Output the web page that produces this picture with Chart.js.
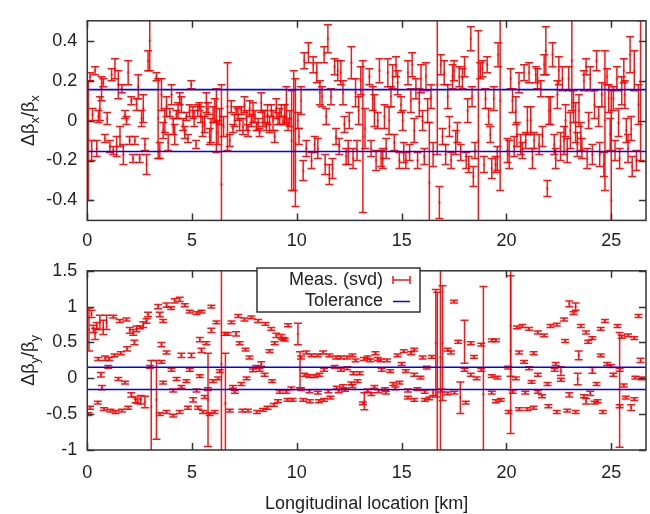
<!DOCTYPE html>
<html>
<head>
<meta charset="utf-8">
<script src="https://cdn.jsdelivr.net/npm/chart.js@4.4.1/dist/chart.umd.min.js"></script>
<style>
  html, body { margin:0; padding:0; background:#fff; }
  #wrap { position:relative; width:650px; height:514px; overflow:hidden; }
  canvas { position:absolute; left:0; }
  #c1 { top:0; }
  #c2 { top:250px; }
</style>
</head>
<body>
<div id="wrap">
  <canvas id="c1" width="650" height="250"></canvas>
  <canvas id="c2" width="650" height="264"></canvas>
</div>
<script>
// ---------------- DATA ----------------
const ringLength = 26.659; // km
const xTickValues = [0, 5, 10, 15, 20, 25];
const yTicksX = [-0.4, -0.2, 0, 0.2, 0.4];
const yTicksY = [-1, -0.5, 0, 0.5, 1, 1.5];
const toleranceX = 0.155;
const toleranceY = 0.155;

// Horizontal plane: location [km], delta beta/beta, error
const sX = [0.05,0.13,0.21,0.25,0.37,0.45,0.53,0.6,0.68,0.76,0.84,0.95,1.08,1.16,1.24,1.32,1.4,1.48,1.56,1.65,1.72,1.8,1.87,1.95,2.02,2.1,2.18,2.27,2.35,2.43,2.5,2.59,2.67,2.75,2.83,2.9,2.98,3.3,3.38,3.46,3.54,3.62,3.7,3.78,3.86,3.94,4.02,4.1,4.17,4.25,4.33,4.41,4.49,4.57,4.65,4.73,4.8,4.88,4.96,5.04,5.1,5.19,5.27,5.35,5.42,5.5,5.6,5.68,5.76,5.84,5.9,6.0,6.08,6.16,6.24,6.32,6.4,6.5,6.69,6.8,6.87,6.95,7.03,7.11,7.19,7.27,7.35,7.43,7.5,7.6,7.67,7.75,7.83,7.91,8.0,8.07,8.15,8.22,8.3,8.38,8.46,8.54,8.6,8.7,8.78,8.86,8.94,9.02,9.1,9.18,9.26,9.34,9.42,9.5,9.58,9.66,9.75,9.85,9.93,10.05,10.1,10.2,10.3,10.35,10.45,10.55,10.7,10.78,10.85,10.95,11.0,11.1,11.2,11.3,11.35,11.4,11.48,11.55,11.63,11.7,11.8,11.87,11.95,12.02,12.1,12.2,12.27,12.35,12.45,12.5,12.6,12.68,12.8,12.87,12.95,13.05,13.15,13.25,13.46,13.54,13.62,13.7,13.78,13.86,13.94,14.02,14.1,14.18,14.26,14.34,14.4,14.49,14.57,14.65,14.73,14.81,14.89,14.97,15.05,15.1,15.2,15.3,15.38,15.44,15.5,15.6,15.68,15.76,15.84,15.92,16.0,16.08,16.16,16.24,16.32,16.4,16.5,16.7,16.8,16.87,16.95,17.03,17.1,17.2,17.28,17.36,17.43,17.5,17.58,17.66,17.75,17.82,17.9,18.0,18.08,18.15,18.2,18.3,18.36,18.42,18.5,18.66,18.75,18.85,18.93,19.0,19.08,19.15,19.23,19.3,19.4,19.48,19.56,19.6,19.7,20.05,20.13,20.2,20.29,20.37,20.45,20.5,20.6,20.68,20.76,20.84,20.92,21.0,21.08,21.16,21.24,21.32,21.4,21.48,21.56,21.64,21.72,21.8,21.88,21.95,22.03,22.1,22.2,22.28,22.35,22.43,22.5,22.58,22.67,22.75,22.82,22.9,22.97,23.05,23.12,23.2,23.3,23.38,23.46,23.55,23.6,23.7,23.8,23.85,23.92,24.0,24.1,24.2,24.3,24.4,24.45,24.55,24.65,24.7,24.8,24.88,24.95,25.0,25.1,25.18,25.27,25.35,25.4,25.5,25.6,25.65,25.72,25.8,25.9,25.95,26.0,26.1,26.2,26.3,26.4];
const dbX = [-0.1,0.22,-0.15,0.03,0.25,-0.14,0.02,0.06,0.16,0.19,-0.09,0.01,-0.13,0.23,-0.15,0.26,-0.13,0.18,-0.08,0.16,-0.17,0.03,0.0,0.24,-0.1,0.1,-0.19,-0.1,0.08,0.17,-0.19,0.01,0.06,-0.12,-0.22,0.3,0.4,0.22,0.01,-0.15,0.13,-0.05,0.0,0.07,-0.11,0.04,0.13,-0.03,-0.07,0.03,0.05,0.11,0.08,-0.02,-0.06,0.02,-0.09,0.05,0.18,0.04,0.01,-0.12,0.05,0.07,0.03,-0.03,-0.02,0.09,0.06,-0.08,-0.05,0.03,0.05,0.0,-0.06,0.02,-0.32,-0.03,0.07,-0.1,0.07,-0.04,0.0,0.05,0.03,-0.02,0.05,-0.03,0.08,0.0,-0.05,0.06,0.0,0.04,0.02,-0.03,-0.02,-0.06,0.09,0.01,0.02,-0.03,0.03,-0.02,0.05,0.0,-0.08,0.06,0.01,0.02,0.05,0.0,0.03,0.08,-0.02,0.01,-0.1,-0.05,-0.11,0.0,-0.08,0.1,-0.25,0.3,-0.14,0.34,-0.2,0.28,-0.12,0.24,-0.14,0.14,0.12,0.33,-0.22,0.02,0.41,-0.27,0.12,-0.24,0.27,-0.08,0.25,-0.13,0.24,0.14,-0.02,-0.18,-0.16,0.0,0.29,-0.19,0.14,-0.15,0.05,0.2,-0.08,-0.04,0.22,-0.14,0.11,0.05,-0.2,0.0,0.25,-0.19,-0.19,0.02,-0.14,0.24,0.0,0.12,0.22,-0.11,0.27,0.19,-0.2,0.08,0.0,-0.16,-0.2,0.24,-0.16,0.1,0.28,-0.05,0.16,-0.2,0.09,0.21,0.0,-0.18,0.22,0.05,-0.31,0.12,-0.17,0.18,-0.41,0.28,-0.08,0.24,-0.17,0.12,-0.03,-0.2,0.22,0.25,-0.11,-0.06,0.22,-0.16,0.21,0.27,-0.2,0.05,-0.22,0.41,0.12,-0.28,-0.15,-0.1,0.25,0.26,-0.22,0.11,0.28,0.02,-0.07,-0.24,0.11,-0.22,-0.19,0.33,0.1,-0.15,-0.17,0.21,0.1,-0.13,0.05,-0.07,0.19,-0.12,-0.15,0.24,-0.1,0.0,0.24,0.0,-0.19,-0.1,0.23,0.21,-0.12,0.16,-0.08,0.28,0.35,-0.34,0.05,0.05,0.33,-0.12,-0.19,0.13,0.25,-0.13,0.21,-0.1,0.0,-0.15,0.21,-0.05,0.3,0.07,-0.01,-0.12,0.05,-0.08,-0.14,0.2,0.27,-0.19,0.0,0.21,-0.17,0.08,0.3,0.02,-0.17,0.13,-0.22,0.0,0.22,0.11,-0.07,-0.4,0.11,-0.15,0.21,-0.01,-0.19,0.15,0.25,0.13,-0.05,-0.14,0.33,-0.04,-0.23,0.25,-0.2,0.08,0.15];
const errX = [0.3,0.02,0.05,0.03,0.02,0.04,0.03,0.06,0.06,0.02,0.02,0.03,0.03,0.03,0.02,0.05,0.05,0.07,0.05,0.02,0.05,0.02,0.02,0.06,0.02,0.02,0.02,0.02,0.03,0.06,0.02,0.04,0.07,0.03,0.05,0.05,0.15,0.02,0.2,0.04,0.08,0.04,0.06,0.05,0.04,0.02,0.05,0.04,0.05,0.02,0.04,0.03,0.04,0.03,0.03,0.02,0.02,0.03,0.02,0.03,0.04,0.02,0.03,0.02,0.04,0.05,0.04,0.05,0.03,0.04,0.06,0.04,0.06,0.16,0.06,0.04,0.5,0.05,0.22,0.03,0.03,0.02,0.03,0.02,0.03,0.03,0.02,0.04,0.04,0.05,0.03,0.04,0.03,0.05,0.03,0.02,0.03,0.02,0.05,0.04,0.03,0.02,0.05,0.04,0.03,0.05,0.03,0.05,0.03,0.04,0.03,0.02,0.05,0.09,0.03,0.04,0.25,0.3,0.32,
  0.04,0.04,0.07,0.05,0.04,0.04,0.05,0.04,0.04,0.04,
  0.05,0.05,0.06,0.05,0.04,0.05,0.04,0.07,0.05,0.04,
  0.05,0.04,0.04,0.05,0.04,0.06,0.06,0.04,0.04,0.06,
  0.04,0.08,0.05,0.07,0.05,0.07,0.07,0.38,0.1,0.04,
  0.04,0.06,0.08,0.05,0.04,0.06,0.04,0.05,0.06,0.05,
  0.07,0.07,0.05,0.06,0.04,0.05,0.06,0.04,0.04,0.05,
  0.05,0.04,0.06,0.04,0.06,0.06,0.06,0.05,0.04,0.07,
  0.07,0.05,0.04,0.07,0.06,0.3,0.06,0.06,0.35,0.08,
  0.05,0.04,0.06,0.05,0.06,0.05,0.04,0.06,0.05,0.06,
  0.05,0.05,0.04,0.05,0.05,0.04,0.06,0.04,0.06,0.05,
  0.05,0.04,0.55,0.04,0.04,0.04,0.05,0.04,0.04,0.04,
  0.05,0.06,0.04,0.06,0.06,0.45,0.06,0.07,0.05,0.06,
  0.05,0.07,0.06,0.05,0.05,0.04,0.04,0.04,0.07,0.05,
  0.07,0.05,0.04,0.04,0.05,0.05,0.04,0.05,0.05,0.12,
  0.04,0.07,0.07,0.06,0.05,0.05,0.07,0.07,0.07,0.06,
  0.07,0.08,0.06,0.06,0.09,0.25,0.08,0.1,0.06,0.08,
  0.07,0.05,0.05,0.04,0.05,0.04,0.06,0.05,0.07,0.05,
  0.05,0.06,0.06,0.06,0.35,0.04,0.07,0.08,0.55,0.06,
  0.05,0.06,0.07,0.05,0.07,0.06,0.07,0.06,0.07,0.09,
  0.06,0.05,0.1,0.05,0.1,0.35];

// Vertical plane: location [km], delta beta/beta, error
const sY = [0.05,0.08,0.13,0.2,0.29,0.37,0.45,0.5,0.52,0.6,0.65,0.7,0.76,0.8,0.85,0.92,1.0,1.05,1.1,1.24,1.3,1.35,1.48,1.55,1.6,1.65,1.8,1.87,1.9,1.95,2.03,2.1,2.19,2.25,2.3,2.35,2.4,2.51,2.55,2.67,2.75,2.83,2.9,2.99,3.05,3.3,3.38,3.46,3.46,3.54,3.54,3.62,3.62,3.78,3.78,3.78,4.0,4.02,4.1,4.1,4.17,4.26,4.41,4.41,4.49,4.49,4.65,4.73,4.8,4.89,4.89,4.97,5.05,5.21,5.21,5.29,5.37,5.37,5.45,5.45,5.52,5.6,5.68,5.76,5.76,5.84,5.92,5.92,6.0,6.08,6.16,6.24,6.32,6.4,6.56,6.59,6.7,6.8,6.88,6.95,7.04,7.1,7.2,7.27,7.35,7.4,7.5,7.55,7.6,7.67,7.74,7.83,7.9,8.06,8.1,8.15,8.22,8.3,8.38,8.46,8.5,8.6,8.7,8.78,8.82,8.9,8.94,9.02,9.1,9.18,9.26,9.35,9.42,9.5,9.55,9.58,9.74,9.8,10.05,10.15,10.2,10.2,10.3,10.36,10.45,10.6,10.6,10.62,10.7,10.84,11.0,11.0,11.05,11.08,11.25,11.3,11.3,11.5,11.55,11.6,11.8,11.87,11.9,12.0,12.1,12.1,12.2,12.3,12.4,12.4,12.6,12.65,12.65,12.7,12.8,12.9,13.0,13.15,13.2,13.22,13.38,13.38,13.5,13.55,13.7,13.75,13.86,13.9,14.0,14.05,14.2,14.25,14.3,14.45,14.6,14.7,14.8,14.9,15.0,15.1,15.2,15.3,15.3,15.45,15.6,15.6,15.6,15.75,15.9,16.0,16.1,16.1,16.2,16.32,16.44,16.5,16.63,16.7,16.85,16.9,16.95,17.2,17.2,17.35,17.5,17.52,17.7,17.8,18.0,18.0,18.06,18.3,18.3,18.45,18.58,18.8,18.8,18.9,19.3,19.3,19.3,19.5,19.5,19.57,19.73,20.08,20.1,20.2,20.2,20.3,20.45,20.5,20.6,20.6,20.76,20.84,20.9,21.0,21.08,21.08,21.2,21.3,21.3,21.5,21.5,21.5,21.7,21.8,21.96,22.0,22.1,22.3,22.35,22.4,22.4,22.6,22.6,22.75,22.8,22.9,23.0,23.0,23.2,23.3,23.3,23.4,23.45,23.55,23.7,23.8,23.8,23.9,24.0,24.1,24.1,24.2,24.3,24.35,24.5,24.5,24.6,24.7,24.8,25.0,25.1,25.3,25.4,25.4,25.4,25.5,25.6,25.7,25.8,25.95,26.1,26.1,26.15,26.3,26.4,26.45];
const dbY = [-0.5,0.68,-0.41,0.9,0.69,0.62,0.73,-0.34,0.27,0.78,0.05,-0.13,0.71,-0.43,0.28,0.78,0.16,0.27,-0.45,0.86,0.32,-0.47,-0.01,0.8,0.35,-0.45,-0.06,0.82,0.41,-0.41,0.67,-0.23,0.64,0.5,-0.3,0.69,-0.32,0.71,-0.3,0.75,-0.33,0.8,0.89,0.16,-0.4,-0.3,1.0,0.89,-0.5,0.47,0.23,0.8,-0.06,1.02,0.36,-0.47,0.98,0.12,-0.52,-0.17,1.08,-0.01,1.1,-0.47,0.32,-0.12,1.02,-0.04,-0.41,0.93,0.12,0.32,-0.3,0.91,-0.17,-0.41,0.54,0.03,0.93,0.39,-0.47,-0.26,0.49,-0.15,-0.3,-0.5,1.0,0.67,-0.04,-0.47,0.78,0.0,0.1,0.2,0.62,-0.35,0.62,-0.45,0.78,-0.12,-0.19,0.62,0.87,0.49,-0.08,-0.45,0.82,0.4,0.0,-0.45,0.29,0.85,0.11,0.16,-0.47,0.8,0.12,0.2,-0.44,0.05,0.76,-0.41,0.38,0.69,-0.04,-0.37,0.49,0.6,-0.32,-0.19,0.58,0.55,0.54,-0.19,-0.3,0.74,-0.14,-0.3,0.62,0.12,0.29,-0.15,-0.3,0.05,0.36,0.03,-0.18,-0.32,0.32,0.03,0.32,-0.2,-0.32,0.05,0.36,0.12,-0.3,-0.18,0.32,-0.27,0.16,0.29,-0.13,-0.18,0.29,0.12,-0.11,-0.16,0.29,0.14,-0.07,0.32,-0.11,0.07,0.25,-0.04,0.07,-0.35,0.27,-0.32,0.29,-0.17,0.25,-0.22,-0.12,0.35,0.27,-0.18,0.25,0.12,-0.15,-0.2,0.25,0.1,-0.08,-0.14,0.32,-0.06,0.2,0.38,0.1,-0.17,-0.27,0.35,0.4,0.05,-0.3,-0.15,0.01,0.29,-0.19,-0.3,0.15,-0.28,0.3,-0.2,0.49,-0.2,0.29,-0.17,0.49,0.4,-0.21,0.36,1.07,-0.2,0.51,-0.27,0.51,0.12,-0.34,0.49,0.05,0.3,0.0,0.47,0.12,-0.22,0.53,0.03,-0.2,0.53,-0.32,0.01,-0.3,0.15,-0.47,0.73,0.38,-0.19,0.0,0.71,0.36,-0.43,0.73,0.23,-0.2,-0.43,0.69,0.14,-0.05,-0.41,0.35,0.64,0.05,-0.19,-0.25,0.6,-0.08,-0.39,0.73,0.12,0.2,0.75,-0.47,0.1,-0.02,0.82,0.52,-0.45,1.04,-0.23,0.91,1.0,-0.47,-0.01,0.32,0.73,-0.25,0.64,-0.32,0.51,-0.21,0.56,0.11,-0.34,-0.08,-0.32,0.69,0.32,-0.47,0.8,0.2,0.17,0.05,0.73,0.12,-0.16,-0.39,0.58,-0.1,-0.27,0.6,-0.41,0.56,-0.29,0.01,0.87,0.25,0.0];
const errY = [0.02,0.3,0.02,0.05,0.05,0.08,0.05,0.02,0.02,0.1,0.03,0.03,0.1,0.02,0.03,0.1,0.02,0.02,0.02,0.02,0.02,0.02,0.02,0.02,0.02,0.02,0.02,0.02,0.03,0.02,0.04,0.03,0.04,0.03,0.04,0.04,0.03,0.02,0.06,0.04,0.08,0.03,0.03,0.02,0.65,0.55,0.03,0.03,0.02,0.03,0.02,0.02,0.02,0.03,0.02,0.02,0.02,0.02,0.02,0.02,0.03,0.02,0.03,0.02,0.03,0.02,0.02,0.02,0.02,0.02,0.02,0.03,0.03,0.02,0.02,0.02,0.03,0.02,0.02,0.03,0.02,0.02,0.02,0.02,0.65,0.02,0.02,0.03,0.02,0.02,0.02,0.02,0.02,1.5,0.02,0.7,0.02,0.02,0.02,0.02,0.02,0.03,0.02,0.02,0.02,0.02,0.02,0.02,0.02,0.02,0.02,0.02,0.02,0.02,0.02,0.02,0.02,0.03,0.02,0.02,0.02,0.02,0.02,0.02,0.02,0.02,0.02,0.03,0.02,0.02,0.03,0.02,0.02,0.02,0.02,0.02,0.02,0.02,0.15,0.25,0.02,0.02,0.02,0.02,0.02,0.02,0.02,0.02,0.02,0.02,0.02,0.02,0.02,0.02,0.02,0.02,0.02,0.02,0.02,0.02,0.02,0.02,0.02,0.02,0.02,0.02,0.02,0.02,0.02,0.02,0.02,0.02,0.02,0.02,0.02,0.02,0.02,0.02,0.02,0.12,0.02,0.02,0.02,0.02,0.02,0.02,0.02,0.02,0.02,0.02,0.02,0.02,0.02,0.02,0.02,0.02,0.02,0.02,0.02,0.02,0.02,0.02,0.02,0.02,0.02,0.02,0.02,0.02,0.02,0.02,0.02,0.02,0.02,0.02,0.02,0.04,0.75,1.4,1.3,0.02,0.8,0.02,0.02,0.02,0.02,0.02,0.02,0.22,0.3,0.02,0.02,0.02,0.02,0.02,0.02,0.02,0.02,1.5,0.02,0.02,0.02,0.02,0.02,0.02,0.02,0.02,0.02,0.7,1.15,0.02,0.02,0.02,0.02,0.02,0.02,0.02,0.02,0.02,0.02,0.02,0.02,0.02,0.02,0.02,0.02,0.02,0.02,0.02,0.02,0.02,0.02,0.02,0.02,0.02,0.02,0.06,0.02,0.02,0.02,0.02,0.04,0.03,0.02,0.05,0.02,0.08,0.06,0.02,0.02,0.02,0.04,0.02,0.03,0.02,0.04,0.02,0.02,0.02,0.02,0.02,0.02,0.02,0.02,0.02,0.02,0.02,0.02,0.8,0.02,0.02,0.02,0.02,0.02,0.04,0.02,0.02,0.02,0.02,0.03,0.02,0.02,0.1,0.05,1.0];

// ---------------- STYLE / PLUGINS ----------------
const FONT = { family: "'Liberation Sans', Arial, sans-serif", size: 18 };
const TXT = '#222';
const RED = 'rgba(255,0,0,0.92)';
const BLUE = '#0000ff';

const errorBars = {
  id: 'errorBars',
  afterDatasetDraw(chart, args) {
    const ds = chart.data.datasets[args.index];
    if (!ds.errors) return;
    const { ctx, chartArea: a, scales } = chart;
    const xs = scales.x, ys = scales.y;
    ctx.save();
    ctx.beginPath();
    ctx.rect(a.left, a.top, a.right - a.left, a.bottom - a.top);
    ctx.clip();
    ctx.strokeStyle = RED;
    ctx.lineWidth = 1.5;
    ds.data.forEach((p, i) => {
      const e = ds.errors[i];
      const px = xs.getPixelForValue(p.x);
      const y1 = ys.getPixelForValue(p.y - e);
      const y2 = ys.getPixelForValue(p.y + e);
      ctx.beginPath();
      ctx.moveTo(px, y1); ctx.lineTo(px, y2);
      ctx.moveTo(px - 4, y1); ctx.lineTo(px + 4, y1);
      ctx.moveTo(px - 4, y2); ctx.lineTo(px + 4, y2);
      ctx.stroke();
    });
    ctx.restore();
  }
};

const frame = {
  id: 'frame',
  afterDraw(chart) {
    const { ctx, chartArea: a, scales } = chart;
    ctx.save();
    ctx.strokeStyle = '#333';
    ctx.lineWidth = 1.5;
    const T = 7;
    ctx.beginPath();
    scales.x.ticks.forEach(t => {
      const px = Math.round(scales.x.getPixelForValue(t.value)) + 0.5;
      ctx.moveTo(px, a.bottom); ctx.lineTo(px, a.bottom - T);
      ctx.moveTo(px, a.top); ctx.lineTo(px, a.top + T);
    });
    scales.y.ticks.forEach(t => {
      const py = Math.round(scales.y.getPixelForValue(t.value)) + 0.5;
      ctx.moveTo(a.left, py); ctx.lineTo(a.left + T, py);
      ctx.moveTo(a.right, py); ctx.lineTo(a.right - T, py);
    });
    ctx.stroke();
    ctx.strokeRect(a.left, a.top, a.right - a.left, a.bottom - a.top);
    ctx.restore();
  }
};

function yTitlePlugin(sub) {
  return {
    id: 'ytitle',
    afterDraw(chart) {
      const { ctx, chartArea: a } = chart;
      const cy = (a.top + a.bottom) / 2;
      const big = "18px 'Liberation Sans', Arial, sans-serif";
      const small = "13px 'Liberation Sans', Arial, sans-serif";
      const parts = [['Δβ', big, 0], [sub, small, 5], ['/β', big, 0], [sub, small, 5]];
      ctx.save();
      ctx.fillStyle = TXT;
      let w = 0;
      parts.forEach(p => { ctx.font = p[1]; w += ctx.measureText(p[0]).width; });
      ctx.translate(34, cy);
      ctx.rotate(-Math.PI / 2);
      let x = -w / 2;
      ctx.textBaseline = 'alphabetic';
      parts.forEach(p => {
        ctx.font = p[1];
        ctx.fillText(p[0], x, p[2]);
        x += ctx.measureText(p[0]).width;
      });
      ctx.restore();
    }
  };
}

const xTitle = {
  id: 'xtitle',
  afterDraw(chart) {
    const { ctx, chartArea: a } = chart;
    ctx.save();
    ctx.fillStyle = TXT;
    ctx.font = "18px 'Liberation Sans', Arial, sans-serif";
    ctx.textAlign = 'center';
    ctx.textBaseline = 'middle';
    ctx.fillText('Longitudinal location [km]', (a.left + a.right) / 2, 254);
    ctx.restore();
  }
};

const legendBox = {
  id: 'legendBox',
  afterDraw(chart) {
    const { ctx } = chart;
    const L = 257, T = 18, R = 420, B = 62;
    ctx.save();
    ctx.fillStyle = '#fff';
    ctx.fillRect(L, T, R - L, B - T);
    ctx.strokeStyle = '#333';
    ctx.lineWidth = 1.5;
    ctx.strokeRect(L, T, R - L, B - T);
    ctx.fillStyle = TXT;
    ctx.font = "18px 'Liberation Sans', Arial, sans-serif";
    ctx.textAlign = 'right';
    ctx.textBaseline = 'middle';
    ctx.fillText(chart.data.datasets[1].label, 383, 30);
    ctx.fillText(chart.data.datasets[0].label, 383, 51);
    ctx.strokeStyle = RED; ctx.lineWidth = 1.5;
    ctx.beginPath();
    ctx.moveTo(393, 30); ctx.lineTo(410, 30);
    ctx.moveTo(393, 26); ctx.lineTo(393, 34);
    ctx.moveTo(410, 26); ctx.lineTo(410, 34);
    ctx.stroke();
    ctx.strokeStyle = BLUE; ctx.lineWidth = 1.5;
    ctx.beginPath(); ctx.moveTo(393, 51.5); ctx.lineTo(410, 51.5); ctx.stroke();
    ctx.restore();
  }
};

function makeChart(id, s, v, err, tol, ymin, ymax, yTicks, padTop, axisH, xPad, sub, extra) {
  const pts = s.map((x, i) => ({ x, y: v[i] }));
  return new Chart(document.getElementById(id), {
    type: 'scatter',
    data: {
      datasets: [
        { label: 'Tolerance', type: 'line', data: [{ x: 0, y: tol }, { x: ringLength, y: tol }], borderColor: BLUE, borderWidth: 1.6, pointRadius: 0, order: 1 },
        { label: 'Meas. (svd)', data: pts, errors: err, pointRadius: 1.4, pointBackgroundColor: 'rgba(255,60,60,0.6)', pointBorderWidth: 0, order: 2 },
        { label: 'Tolerance-', type: 'line', data: [{ x: 0, y: -tol }, { x: ringLength, y: -tol }], borderColor: BLUE, borderWidth: 1.6, pointRadius: 0, order: 1 }
      ]
    },
    options: {
      responsive: false, animation: false,
      layout: { padding: { top: padTop, right: 2.9, left: 0, bottom: 0 } },
      plugins: { legend: { display: false }, tooltip: { enabled: false } },
      scales: {
        x: {
          type: 'linear', min: 0, max: ringLength,
          grid: { display: false, drawTicks: false }, border: { display: false },
          ticks: { font: FONT, color: TXT, padding: xPad, maxRotation: 0, callback: v => String(v) },
          afterBuildTicks: sc => { sc.ticks = xTickValues.map(v => ({ value: v })); },
          afterFit: sc => { sc.height = axisH; }
        },
        y: {
          min: ymin, max: ymax,
          grid: { display: false, drawTicks: false }, border: { display: false },
          ticks: { font: FONT, color: TXT, padding: 10, callback: v => String(v) },
          afterBuildTicks: sc => { sc.ticks = yTicks.map(v => ({ value: v })); },
          afterFit: sc => { sc.width = 87.3; }
        }
      }
    },
    plugins: [errorBars, frame, yTitlePlugin(sub)].concat(extra)
  });
}

makeChart('c1', sX, dbX, errX, toleranceX, -0.5, 0.5, yTicksX, 9.6, 29.6, 10, 'x', []);
makeChart('c2', sY, dbY, errY, toleranceY, -1, 1.5, yTicksY, 10, 64, 12, 'y', [xTitle, legendBox]);
</script>
</body>
</html>
